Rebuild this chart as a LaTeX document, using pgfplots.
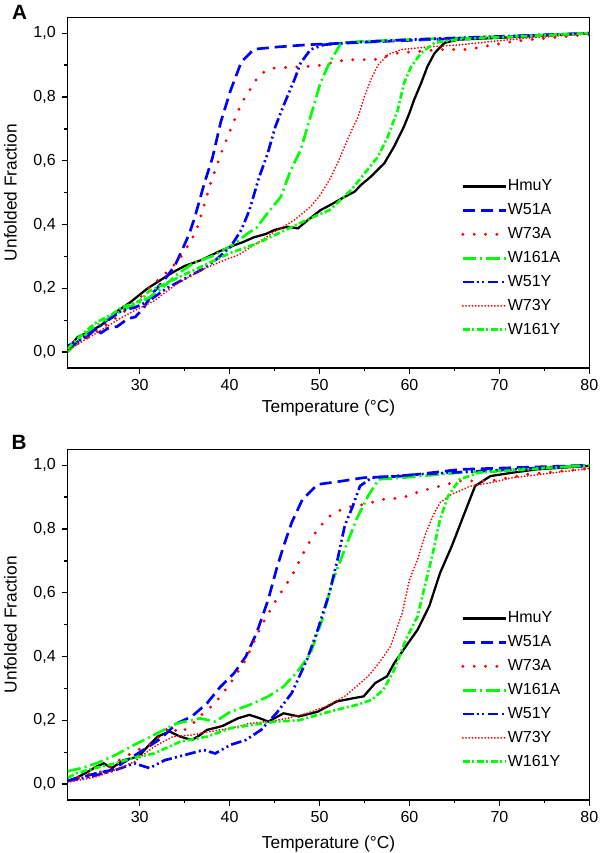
\documentclass[border=0pt]{standalone}
\usepackage{fontspec}
\setmainfont{Liberation Sans}
\usepackage{pgfplots}
\pgfplotsset{compat=1.18}
\begin{document}
\begin{tikzpicture}[x=1pt,y=1pt]
\useasboundingbox (0,0) rectangle (450,639.75);
\pgfplotsset{
  hmuy/.style={black, line width=1.7pt},
  w51a/.style={blue, line width=2pt, dash pattern=on 9pt off 4.5pt},
  w73a/.style={red, line width=2.4pt, line cap=round, dash pattern=on 0pt off 8.5pt},
  w161a/.style={green, line width=2pt, dash pattern=on 10pt off 3pt on 1.5pt off 3pt},
  w51y/.style={blue, line width=2pt, dash pattern=on 8pt off 2.5pt on 1.5pt off 2.5pt on 1.5pt off 2.5pt},
  w73y/.style={red, line width=1.5pt, line cap=round, dash pattern=on 0pt off 2.4pt},
  w161y/.style={green, line width=2pt, dash pattern=on 5pt off 2pt on 1.5pt off 2pt},
  panel/.style={
    width=391.2pt, height=263pt, scale only axis,
    xmin=22, xmax=80, ymin=-0.05, ymax=1.05,
    xtick={30,40,50,60,70,80}, ytick={0,0.2,0.4,0.6,0.8,1},
    minor x tick num=1, minor y tick num=1,
    tick align=outside, xtick pos=left, ytick pos=left,
    major tick length=4.5pt, minor tick length=2.5pt,
    axis line style={line width=1pt},
    tick style={line width=1pt, black},
    /pgf/number format/assume math mode=true,
    yticklabel style={/pgf/number format/.cd, fixed, fixed zerofill, precision=1, use comma, /tikz/.cd, font=\fontsize{12}{14}\selectfont, xshift=-1pt},
    xticklabel style={font=\fontsize{12}{14}\selectfont, yshift=-0.5pt},
    xlabel={Temperature (°C)}, ylabel={Unfolded Fraction},
    label style={font=\fontsize{13}{15}\selectfont},
    ylabel style={at={(axis description cs:0,0.5)}, anchor=center, yshift=43pt},
    legend style={at={(axis cs:65.73,0.544)}, anchor=north west, draw=none, fill=none, inner sep=0pt,
      font=\fontsize{12}{14}\selectfont, row sep=6.4pt,
      nodes={inner sep=0pt, text height=9pt, text depth=2.5pt},
      /tikz/every even column/.append style={column sep=4.5pt}},
    legend cell align=left,
    legend image code/.code={\draw[#1] (0pt,0pt) -- (32.5pt,0pt);},
  }
}
\begin{axis}[panel, at={(50.8pt,363.75pt)}, anchor=south west,
  xlabel style={at={(axis description cs:0.5,0)}, yshift=-30pt, anchor=center}]
\addplot[hmuy] coordinates {(22,0.01) (23.1,0.047) (24.5,0.065) (25.7,0.084) (26.6,0.105) (27.6,0.13) (29,0.157) (30,0.18) (30.9,0.2) (32,0.22) (33.1,0.24) (34,0.255) (35,0.27) (36.8,0.288) (37.7,0.3) (38.7,0.314) (40.5,0.335) (41.5,0.345) (42.7,0.36) (44,0.37) (45,0.383) (46.4,0.393) (47.6,0.388) (48.7,0.414) (50.1,0.445) (51.1,0.46) (52.8,0.487) (53.9,0.503) (54.6,0.524) (55.7,0.55) (57.2,0.592) (58.3,0.645) (59.4,0.708) (60,0.75) (60.5,0.79) (61.3,0.844) (62,0.896) (62.8,0.938) (63.9,0.97) (65.4,0.98) (69.4,0.985) (75,0.993) (80,1.0)};
\addlegendentry{HmuY}
\addplot[w51a] coordinates {(22,0.02) (23,0.03) (24.2,0.05) (25,0.07) (25.7,0.06) (26.5,0.075) (27.5,0.08) (28.7,0.105) (29.5,0.11) (30.4,0.136) (31.3,0.18) (32.7,0.225) (33.9,0.27) (34.8,0.325) (35.5,0.37) (36.1,0.42) (37.2,0.53) (38.1,0.61) (39,0.72) (40.1,0.82) (41.3,0.91) (42.7,0.95) (45.3,0.957) (48.7,0.964) (51.1,0.967) (55,0.972) (62,0.98) (70,0.988) (76.8,0.996) (80,1.0)};
\addlegendentry{W51A}
\addplot[w73a] coordinates {(22,0.01) (24,0.04) (26,0.08) (28,0.12) (30,0.17) (31,0.2) (32,0.225) (33,0.25) (34.4,0.29) (35.5,0.34) (36.3,0.38) (37,0.445) (37.9,0.53) (39,0.62) (40,0.69) (41.3,0.78) (42.2,0.82) (43.3,0.87) (44.6,0.89) (47.2,0.894) (49.8,0.898) (51,0.905) (53,0.917) (56.1,0.917) (57.4,0.928) (58.7,0.938) (63.5,0.949) (66.5,0.949) (68,0.957) (71.7,0.975) (76.5,0.988) (80,0.996)};
\addlegendentry{W73A}
\addplot[w161a] coordinates {(22,0.0) (23,0.03) (25,0.08) (28,0.13) (31,0.17) (32.5,0.2) (34,0.24) (36,0.28) (38,0.3) (40,0.33) (41,0.35) (42,0.372) (43,0.39) (44.2,0.435) (45.7,0.487) (46.8,0.571) (47.9,0.634) (49,0.739) (50.1,0.844) (51.1,0.907) (52,0.95) (52.4,0.97) (55,0.975) (60,0.98) (70,0.99) (80,1.0)};
\addlegendentry{W161A}
\addplot[w51y] coordinates {(22,0.01) (23.5,0.04) (25,0.07) (26.5,0.1) (28,0.13) (29.5,0.14) (31,0.16) (32,0.18) (33,0.2) (35,0.23) (37,0.26) (38.5,0.29) (40.1,0.33) (41.3,0.383) (42.2,0.445) (43.3,0.55) (44.2,0.62) (45.1,0.708) (46.1,0.78) (47.2,0.854) (47.9,0.907) (49,0.949) (50.5,0.964) (53,0.97) (60,0.98) (70,0.99) (80,1.0)};
\addlegendentry{W51Y}
\addplot[w73y] coordinates {(22,0.005) (24,0.04) (25.7,0.068) (27.5,0.1) (29.4,0.13) (31.6,0.16) (33,0.19) (34.2,0.215) (36.8,0.257) (39.4,0.288) (41,0.305) (42.4,0.33) (45,0.377) (47.2,0.414) (49,0.456) (50,0.49) (51.1,0.54) (52,0.592) (53.1,0.666) (54.3,0.739) (55,0.802) (55.7,0.854) (56.5,0.9) (57.6,0.933) (59.1,0.949) (62,0.957) (65.7,0.964) (69.4,0.975) (73.1,0.985) (80,0.998)};
\addlegendentry{W73Y}
\addplot[w161y] coordinates {(22,0.01) (23,0.04) (25,0.09) (27,0.12) (28,0.14) (30,0.16) (31,0.19) (34,0.23) (37,0.27) (40,0.31) (43,0.34) (46,0.38) (49,0.42) (51.1,0.445) (53.5,0.508) (55,0.56) (56.5,0.613) (57.6,0.676) (58.7,0.76) (59.4,0.844) (60.2,0.896) (61.3,0.938) (62.8,0.97) (65.7,0.982) (72,0.99) (80,1.0)};
\addlegendentry{W161Y}
\end{axis}
\begin{axis}[panel, at={(50.8pt,39.75pt)}, anchor=south west,
  xlabel style={at={(axis description cs:0.5,0)}, yshift=-33pt, anchor=center}]
\addplot[hmuy] coordinates {(22,0.01) (23,0.02) (24,0.035) (25.2,0.055) (26,0.065) (26.9,0.05) (28.2,0.075) (29.9,0.086) (30.7,0.112) (32,0.149) (33.3,0.165) (34.5,0.149) (35.8,0.138) (36.5,0.15) (37.5,0.17) (39.2,0.182) (40.9,0.206) (42.2,0.217) (43.3,0.207) (44.3,0.196) (46,0.222) (47.7,0.212) (49.8,0.227) (51.9,0.259) (53.7,0.269) (54.9,0.275) (56.2,0.317) (57.5,0.338) (58.3,0.379) (59.6,0.432) (60.9,0.484) (62.2,0.558) (63.4,0.662) (64.7,0.746) (66,0.841) (67.3,0.935) (69,0.966) (71.5,0.977) (74.1,0.987) (80,0.998)};
\addlegendentry{HmuY}
\addplot[w51a] coordinates {(22,0.01) (25.2,0.034) (26.9,0.044) (28.6,0.075) (30.7,0.112) (32.4,0.144) (34.1,0.19) (35.8,0.212) (37.5,0.254) (39,0.306) (40.5,0.348) (41.8,0.4) (43,0.474) (44.3,0.579) (45.2,0.673) (46,0.746) (46.9,0.82) (48.1,0.893) (49.8,0.94) (52.4,0.95) (54.9,0.961) (59.2,0.966) (65.6,0.987) (80,1.0)};
\addlegendentry{W51A}
\addplot[w73a] coordinates {(22,0.01) (24,0.03) (26,0.04) (28,0.08) (30,0.11) (31.5,0.13) (33.3,0.18) (34.5,0.16) (35.8,0.186) (37,0.22) (38.4,0.254) (40.1,0.317) (41.8,0.39) (43.5,0.495) (45.2,0.579) (46.9,0.652) (48.6,0.746) (49.8,0.8) (51.1,0.84) (52.8,0.867) (54.9,0.877) (57.1,0.893) (59.2,0.898) (61.3,0.919) (63.4,0.935) (65.6,0.951) (69,0.951) (73.2,0.972) (80,0.99)};
\addlegendentry{W73A}
\addplot[w161a] coordinates {(22,0.04) (23.5,0.05) (25.2,0.065) (27.3,0.091) (29.4,0.123) (31.6,0.154) (34.1,0.19) (36.7,0.206) (38.4,0.196) (40.1,0.227) (42.2,0.248) (44.3,0.275) (46,0.306) (47.7,0.358) (49,0.41) (50.3,0.516) (51.5,0.641) (52.8,0.736) (54.1,0.83) (55.4,0.904) (56.6,0.956) (59.2,0.961) (65.6,0.977) (80,1.0)};
\addlegendentry{W161A}
\addplot[w51y] coordinates {(22,0.01) (25.2,0.028) (27.3,0.044) (29.4,0.065) (31.1,0.05) (32.8,0.075) (35,0.091) (37.1,0.107) (38.4,0.096) (40.1,0.123) (41.8,0.138) (43.5,0.17) (45.2,0.222) (46.9,0.285) (48.6,0.39) (49.8,0.484) (51.1,0.6) (52,0.704) (52.8,0.81) (53.7,0.872) (54.5,0.935) (55.8,0.961) (61.3,0.972) (80,1.0)};
\addlegendentry{W51Y}
\addplot[w73y] coordinates {(22,0.005) (25.2,0.023) (27.3,0.044) (29.4,0.07) (31.6,0.117) (33.7,0.149) (35.8,0.154) (37.9,0.165) (40.1,0.175) (42.2,0.19) (44.3,0.196) (46.4,0.206) (48.6,0.222) (50.7,0.243) (52.8,0.275) (54.1,0.306) (55.4,0.338) (56.6,0.379) (57.9,0.432) (59.2,0.537) (60,0.641) (60.9,0.704) (61.7,0.778) (62.6,0.841) (63.4,0.883) (64.7,0.909) (66.8,0.935) (69,0.945) (71.5,0.961) (80,0.99)};
\addlegendentry{W73Y}
\addplot[w161y] coordinates {(22,0.02) (23,0.034) (25,0.05) (27.3,0.065) (29,0.08) (31.6,0.096) (34.5,0.133) (37.5,0.149) (40.1,0.175) (42.6,0.186) (45.2,0.196) (47.7,0.2) (49.8,0.217) (51.9,0.233) (54.1,0.248) (55.8,0.264) (57.1,0.296) (58.3,0.358) (59.6,0.453) (60.9,0.526) (61.7,0.62) (62.6,0.725) (63.4,0.83) (64.3,0.904) (65.6,0.956) (67.7,0.977) (80,1.0)};
\addlegendentry{W161Y}
\end{axis}
\node[font=\bfseries\fontsize{15.5}{17}\selectfont] at (14.6,630.75) {A};
\node[font=\bfseries\fontsize{15.5}{17}\selectfont] at (14.25,307.9) {B};
\end{tikzpicture}
\end{document}
